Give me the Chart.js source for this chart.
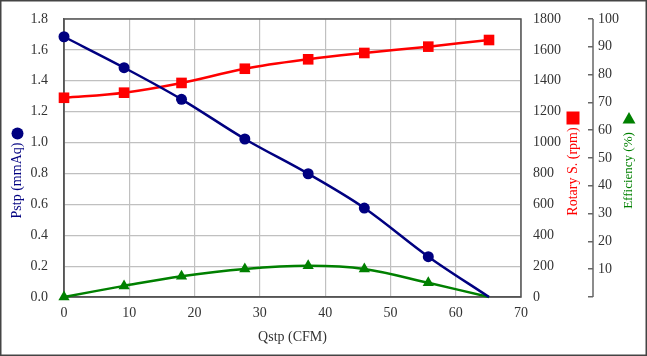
<!DOCTYPE html>
<html>
<head>
<meta charset="utf-8">
<script src="https://cdn.jsdelivr.net/npm/chart.js@4.4.1/dist/chart.umd.min.js"></script>
<style>
html,body{margin:0;padding:0;background:#fff;}
#wrap{position:relative;width:647px;height:356px;}
canvas{display:block;}
</style>
</head>
<body>
<div id="wrap"><canvas id="c" width="647" height="356"></canvas></div>
<script>
// ---- data ----
const qstp = [0, 9.2, 18.0, 27.7, 37.4, 46.0, 55.8, 65.1];
const pstp = [1.685, 1.485, 1.28, 1.023, 0.798, 0.576, 0.261, 0];
const rotary = [1290, 1323, 1386, 1478, 1539, 1580, 1621, 1664];
const efficiency = [0, 4.0, 7.5, 10.1, 11.2, 10.1, 5.1, 0];
const xTitle = 'Qstp (CFM)';
const pTitle = 'Pstp (mmAq)';
const rTitle = 'Rotary S. (rpm)';
const eTitle = 'Efficiency (%)';

const NAVY = '#000080', RED = '#ff0000', GREEN = '#008000';
const FONT = "'Liberation Serif', 'Times New Roman', serif";
const TICKC = '#333333';
const GRIDC = '#c0c0c0';
const FRAMEC = '#555555';

function pts(ys){ return qstp.map((q,i)=>({x:q,y:ys[i]})); }
function noPad(s){ s.paddingTop = 0; s.paddingBottom = 0; }

const framePlugin = {
  id:'frame',
  beforeDatasetsDraw(chart){
    const ctx = chart.ctx, a = chart.chartArea;
    ctx.save();
    ctx.strokeStyle = FRAMEC;
    ctx.lineWidth = 1.5;
    ctx.strokeRect(a.left, a.top, a.right - a.left, a.bottom - a.top);
    ctx.restore();
  },
  afterDraw(chart){
    const ctx = chart.ctx;
    ctx.save();
    // outer border
    ctx.strokeStyle = '#444';
    ctx.lineWidth = 1.5;
    ctx.strokeRect(0.75, 0.75, 645.5, 354.5);
    // vertical titles (bottom-to-top) with markers
    const items = [
      {text:chart.options.scales.y.title.text, color:NAVY, x:17.5, y:180.5, font:'14px '+FONT, mark:'circle', my:133.5},
      {text:chart.options.scales.y1.title.text, color:RED, x:573, y:171.5, font:'14px '+FONT, mark:'rect', my:118},
      {text:chart.options.scales.y2.title.text, color:GREEN, x:629, y:170.5, font:'13px '+FONT, mark:'tri', my:118}
    ];
    items.forEach(it=>{
      ctx.save();
      ctx.translate(it.x, it.y);
      ctx.rotate(-Math.PI/2);
      ctx.font = it.font;
      ctx.fillStyle = it.color;
      ctx.textAlign = 'center';
      ctx.textBaseline = 'middle';
      ctx.fillText(it.text, 0, 0);
      ctx.restore();
      ctx.fillStyle = it.color;
      ctx.beginPath();
      if (it.mark === 'circle') {
        ctx.arc(it.x, it.my, 6, 0, Math.PI*2);
      } else if (it.mark === 'rect') {
        ctx.rect(it.x - 6.5, it.my - 6.5, 13, 13);
      } else {
        ctx.moveTo(it.x, it.my - 6);
        ctx.lineTo(it.x + 6.5, it.my + 5.5);
        ctx.lineTo(it.x - 6.5, it.my + 5.5);
        ctx.closePath();
      }
      ctx.fill();
    });
    // efficiency axis line
    const s = chart.scales.y2;
    ctx.strokeStyle = '#666';
    ctx.lineWidth = 1.5;
    ctx.beginPath();
    ctx.moveTo(s.left + 5, s.getPixelForValue(100));
    ctx.lineTo(s.left + 5, s.getPixelForValue(0));
    ctx.stroke();
    ctx.restore();
  }
};

new Chart(document.getElementById('c'), {
  type:'line',
  data:{
    datasets:[
      {label:'Pstp', data:pts(pstp), yAxisID:'y', borderColor:NAVY, backgroundColor:NAVY,
       borderWidth:2.5, tension:0.35, pointStyle:'circle', clip:false,
       pointRadius:pstp.map((v,i)=> i===pstp.length-1 ? 0 : 5.5), pointBorderWidth:0},
      {label:'Rotary', data:pts(rotary), yAxisID:'y1', borderColor:RED, backgroundColor:RED,
       borderWidth:2.5, tension:0.35, pointStyle:'rect', pointRadius:7.5, pointBorderWidth:0, clip:false},
      {label:'Efficiency', data:pts(efficiency), yAxisID:'y2', borderColor:GREEN, backgroundColor:GREEN,
       borderWidth:2.5, tension:0.35, pointStyle:'triangle', clip:false,
       pointRadius:efficiency.map((v,i)=> i===efficiency.length-1 ? 0 : 6.5), pointBorderWidth:0}
    ]
  },
  options:{
    responsive:false,
    animation:false,
    devicePixelRatio:1,
    layout:{padding:{top:19, left:0, right:0, bottom:0}},
    plugins:{legend:{display:false}, tooltip:{enabled:false}},
    scales:{
      x:{
        type:'linear', min:0, max:70,
        ticks:{stepSize:10, color:TICKC, font:{family:FONT, size:14}, padding:8},
        grid:{color:GRIDC, lineWidth:1.2, drawTicks:false},
        border:{display:true, color:FRAMEC, width:1.5},
        title:{display:true, text:xTitle, color:TICKC, font:{family:FONT, size:14}, padding:{top:0, bottom:10}},
        afterFit(s){ s.height = 59; s.paddingLeft = 0; s.paddingRight = 0; }
      },
      y:{
        position:'left', min:0, max:1.8,
        ticks:{stepSize:0.2, color:TICKC, font:{family:FONT, size:14}, padding:16,
               callback:v=>Number(v).toFixed(1)},
        grid:{color:GRIDC, lineWidth:1.2, drawTicks:false},
        border:{display:true, color:FRAMEC, width:1.5},
        title:{display:false, text:pTitle},
        afterFit(s){ s.width = 64; noPad(s); }
      },
      y1:{
        position:'right', weight:0, min:0, max:1800,
        ticks:{stepSize:200, color:TICKC, font:{family:FONT, size:14}, padding:12,
               callback:v=>String(v)},
        grid:{drawOnChartArea:false, drawTicks:false},
        border:{display:false},
        title:{display:false, text:rTitle},
        afterFit(s){ s.width = 67; noPad(s); }
      },
      y2:{
        position:'right', weight:1, min:0, max:100,
        ticks:{stepSize:10, color:TICKC, font:{family:FONT, size:14}, padding:5,
               callback:v=> v===0 ? '' : String(v)},
        grid:{drawOnChartArea:false, drawTicks:true, tickLength:5, color:'#666', lineWidth:1.5},
        border:{display:false},
        title:{display:false, text:eTitle},
        afterFit(s){ s.width = 647 - 588; noPad(s); }
      }
    }
  },
  plugins:[framePlugin]
});
</script>
</body>
</html>
